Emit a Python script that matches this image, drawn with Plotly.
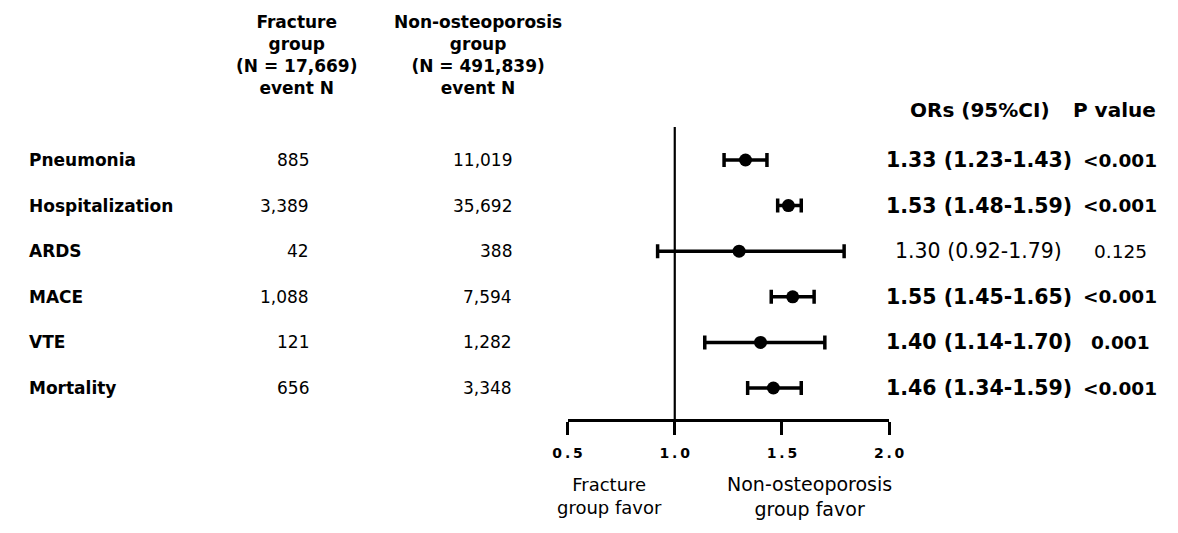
import plotly.graph_objects as go

# ---------------- data ----------------
outcomes = ["Pneumonia", "Hospitalization", "ARDS", "MACE", "VTE", "Mortality"]
fracture_events = ["885", "3,389", "42", "1,088", "121", "656"]
nonost_events = ["11,019", "35,692", "388", "7,594", "1,282", "3,348"]
or_values = [1.33, 1.53, 1.30, 1.55, 1.40, 1.46]
ci_lower = [1.23, 1.48, 0.92, 1.45, 1.14, 1.34]
ci_upper = [1.43, 1.59, 1.79, 1.65, 1.70, 1.59]
p_values = ["<0.001", "<0.001", "0.125", "<0.001", "0.001", "<0.001"]
significant = [True, True, False, True, True, True]
tick_vals = [0.5, 1.0, 1.5, 2.0]
tick_labels = ["0\u2009.\u20095", "1\u2009.\u20090", "1\u2009.\u20095", "2\u2009.\u20090"]

W, H = 1178, 533
FONT = "DejaVu Sans, Liberation Sans, Arial"

rows = list(range(len(outcomes)))

def px(x):
    return x / W

def py(y):
    return 1 - y / H

fig = go.Figure()

fig.add_trace(go.Scatter(
    x=or_values, y=rows, mode="markers",
    marker=dict(color="black", size=13, symbol="circle"),
    error_x=dict(type="data", symmetric=False,
                 array=[u - o for u, o in zip(ci_upper, or_values)],
                 arrayminus=[o - l for o, l in zip(or_values, ci_lower)],
                 color="black", thickness=3.5, width=7),
    showlegend=False, hoverinfo="skip", cliponaxis=False,
))

# null line at OR = 1
fig.add_shape(type="line", xref="x", yref="y domain", x0=1.0, x1=1.0, y0=0, y1=1,
              line=dict(color="black", width=2.2))

ann = []
for i, name in enumerate(outcomes):
    ann.append(dict(x=px(12), y=i, xref="paper", yref="y", text=f"<b>{name}</b>",
                    xanchor="left", yanchor="middle", showarrow=False,
                    font=dict(size=17, family=FONT, color="black")))
    ann.append(dict(x=px(304), y=i, xref="paper", yref="y", text=fracture_events[i],
                    xanchor="right", yanchor="middle", showarrow=False,
                    font=dict(size=17, family=FONT, color="black")))
    ann.append(dict(x=px(512), y=i, xref="paper", yref="y", text=nonost_events[i],
                    xanchor="right", yanchor="middle", showarrow=False,
                    font=dict(size=17, family=FONT, color="black")))
    ci_txt = f"{or_values[i]:.2f} ({ci_lower[i]:.2f}-{ci_upper[i]:.2f})"
    ptxt = p_values[i]
    if significant[i]:
        ci_txt = f"<b>{ci_txt}</b>"
        ptxt = f"<b>{ptxt}</b>"
    ann.append(dict(x=px(989), y=i, xref="paper", yref="y", text=ci_txt,
                    xanchor="center", yanchor="middle", showarrow=False,
                    font=dict(size=20.5, family=FONT, color="black")))
    ann.append(dict(x=px(1134), y=i, xref="paper", yref="y", text=ptxt,
                    xanchor="center", yanchor="middle", showarrow=False,
                    font=dict(size=18.5, family=FONT, color="black")))

# column headers
ann.append(dict(x=px(289), y=py(55), xref="paper", yref="paper",
                text="<b>Fracture<br>group<br>(N = 17,669)<br>event N</b>",
                xanchor="center", yanchor="middle", showarrow=False, align="center",
                font=dict(size=17, family=FONT, color="black")))
ann.append(dict(x=px(475), y=py(55), xref="paper", yref="paper",
                text="<b>Non-osteoporosis<br>group<br>(N = 491,839)<br>event N</b>",
                xanchor="center", yanchor="middle", showarrow=False, align="center",
                font=dict(size=17, family=FONT, color="black")))
ann.append(dict(x=px(990), y=py(110), xref="paper", yref="paper",
                text="<b>ORs (95%CI)</b>", xanchor="center", yanchor="middle",
                showarrow=False, font=dict(size=20, family=FONT, color="black")))
ann.append(dict(x=px(1128), y=py(110), xref="paper", yref="paper",
                text="<b>P value</b>", xanchor="center", yanchor="middle",
                showarrow=False, font=dict(size=20, family=FONT, color="black")))

# favor labels
ann.append(dict(x=px(610), y=py(496), xref="paper", yref="paper",
                text="Fracture<br>group favor", xanchor="center", yanchor="middle",
                showarrow=False, align="center",
                font=dict(size=18, family=FONT, color="black")))
ann.append(dict(x=px(815), y=py(496), xref="paper", yref="paper",
                text="Non-osteoporosis<br>group favor", xanchor="center", yanchor="middle",
                showarrow=False, align="center",
                font=dict(size=19, family=FONT, color="black")))

row0_px, row_step = 160.0, 45.6
top_px, bot_px = 127.0, 419.0

fig.update_layout(
    width=W, height=H,
    margin=dict(l=0, r=0, t=0, b=0),
    paper_bgcolor="white", plot_bgcolor="white",
    annotations=ann,
    xaxis=dict(domain=[px(567), px(897)], range=[0.5, 2.0],
               tickmode="array", tickvals=tick_vals, ticktext=tick_labels,
               ticks="outside", ticklen=13, tickwidth=2.5, tickcolor="black",
               showline=True, linewidth=2.5, linecolor="black",
               showgrid=False, zeroline=False, ticklabelstandoff=6,
               tickfont=dict(size=14, family=FONT, color="black", weight="bold"),
               anchor="y", fixedrange=True),
    yaxis=dict(domain=[py(bot_px), py(top_px)],
               range=[(bot_px - row0_px) / row_step, (top_px - row0_px) / row_step],
               visible=False, showgrid=False, zeroline=False, fixedrange=True),
)

fig.write_html("out.html", config={"displayModeBar": False},
               post_script="document.body.style.margin='0';")
